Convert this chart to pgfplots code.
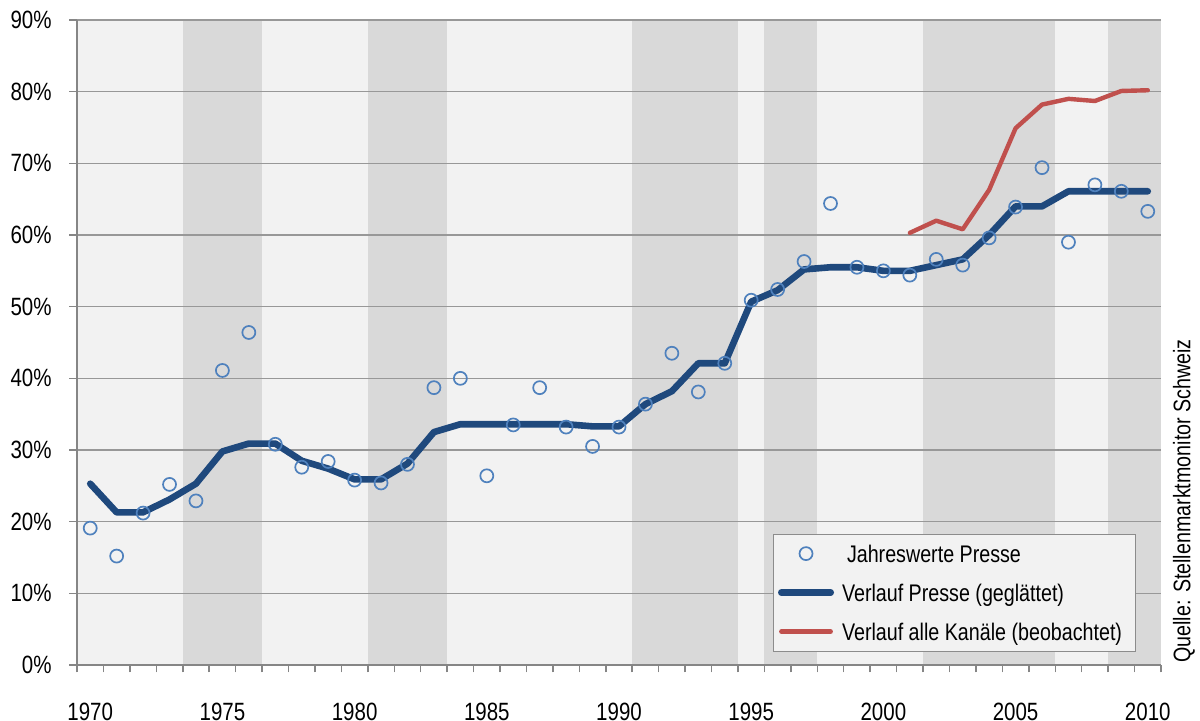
\documentclass[border=0pt]{standalone}
\usepackage{fontspec}
\setmainfont{Liberation Sans}[FakeStretch=0.82]
\usepackage{pgfplots}
\pgfplotsset{compat=1.18}
\definecolor{bgcolor}{HTML}{F2F2F2}
\definecolor{bandgray}{HTML}{D9D9D9}
\definecolor{gridgray}{HTML}{989898}
\definecolor{axisgray}{HTML}{868686}
\definecolor{lineblue}{HTML}{1F497D}
\definecolor{markblue}{HTML}{4F81BD}
\definecolor{linered}{HTML}{C0504D}
\definecolor{legborder}{HTML}{8C8C8C}
\begin{document}
\begin{tikzpicture}
\begin{axis}[
  at={(38.5pt,25.5pt)}, anchor=south west,
  scale only axis, width=542pt, height=322.5pt,
  set layers,
  /pgf/number format/assume math mode=true,
  xmin=1969.5, xmax=2010.5, ymin=0, ymax=90,
  axis x line*=bottom, axis y line*=left,
  axis line style={draw=axisgray, line width=0.75pt},
  tick align=outside,
  xtick={1970,1975,...,2010},
  minor xtick={1969.5,1970.5,...,2010.5},
  major x tick style={draw=none},
  minor x tick style={draw=axisgray, line width=0.75pt},
  minor tick length=3.7pt,
  ytick={0,10,...,90},
  major y tick style={draw=axisgray, line width=0.75pt},
  major tick length=4pt,
  ymajorgrids,
  grid style={draw=gridgray, line width=0.75pt},
  xticklabel style={font=\fontsize{12.5}{14}\selectfont, anchor=base, inner sep=0pt, yshift=-23.5pt},
  xticklabel={\pgfmathprintnumber[assume math mode=true, 1000 sep={}]{\tick}},
  yticklabel style={font=\fontsize{12.5}{14}\selectfont, anchor=east, inner sep=0pt, xshift=-8.5pt},
  yticklabel={\pgfmathprintnumber[assume math mode=true]{\tick}\%},
  legend cell align=left,
  legend style={at={(0.6418,0.0206)}, anchor=south west,
    draw=legborder, fill=bgcolor, line width=0.6pt,
    inner xsep=2.35pt, inner ysep=4pt,
    column sep=4pt, row sep=8pt,
    font=\fontsize{12}{14}\selectfont,
    nodes={inner sep=0pt, text height=10pt, text depth=1.5pt}},
  legend image code/.code={\draw[mark repeat=2, mark phase=2, #1] plot coordinates {(0pt,0pt) (12.35pt,0pt) (24.7pt,0pt)};},
]
% background and shaded bands
\addplot[draw=none, fill=bgcolor, forget plot, on layer=axis background] coordinates {(1969.5,90) (2010.5,90)} \closedcycle;
\addplot[draw=none, fill=bandgray, forget plot, on layer=axis background] coordinates {(1973.5,90) (1976.5,90)} \closedcycle;
\addplot[draw=none, fill=bandgray, forget plot, on layer=axis background] coordinates {(1980.5,90) (1983.5,90)} \closedcycle;
\addplot[draw=none, fill=bandgray, forget plot, on layer=axis background] coordinates {(1990.5,90) (1994.5,90)} \closedcycle;
\addplot[draw=none, fill=bandgray, forget plot, on layer=axis background] coordinates {(1995.5,90) (1997.5,90)} \closedcycle;
\addplot[draw=none, fill=bandgray, forget plot, on layer=axis background] coordinates {(2001.5,90) (2006.5,90)} \closedcycle;
\addplot[draw=none, fill=bandgray, forget plot, on layer=axis background] coordinates {(2008.5,90) (2010.5,90)} \closedcycle;

\addlegendimage{only marks, mark=o, mark size=3.25pt, mark options={draw=markblue, line width=0.85pt}}
\addlegendentry{\hspace{2.5pt}Jahreswerte Presse}
\addlegendimage{draw=lineblue, line width=3.3pt, line cap=round}
\addlegendentry{Verlauf Presse (geglättet)}
\addlegendimage{draw=linered, line width=2.2pt, line cap=round}
\addlegendentry{Verlauf alle Kanäle (beobachtet)\kern4.5pt\null}

% observed all channels
\addplot[forget plot, draw=linered, line width=2.2pt, line join=round, line cap=round, mark=none] coordinates {
(2001,60.3) (2002,62.0) (2003,60.8) (2004,66.3) (2005,74.9)
(2006,78.2) (2007,79.0) (2008,78.7) (2009,80.1) (2010,80.2)};

% smoothed press
\addplot[forget plot, draw=lineblue, line width=3.3pt, line join=round, line cap=round, mark=none] coordinates {
(1970,25.3) (1971,21.3) (1972,21.3) (1973,23.1) (1974,25.3)
(1975,29.8) (1976,30.9) (1977,30.9) (1978,28.5) (1979,27.4)
(1980,25.9) (1981,25.9) (1982,28.1) (1983,32.5) (1984,33.6)
(1985,33.6) (1986,33.6) (1987,33.6) (1988,33.6) (1989,33.3)
(1990,33.3) (1991,36.4) (1992,38.2) (1993,42.1) (1994,42.1)
(1995,50.7) (1996,52.3) (1997,55.2) (1998,55.5) (1999,55.5)
(2000,55.0) (2001,55.0) (2002,55.8) (2003,56.6) (2004,60.0)
(2005,64.0) (2006,64.0) (2007,66.1) (2008,66.1) (2009,66.1)
(2010,66.1)};

% yearly press values
\addplot[forget plot, only marks, mark=o, mark size=3.25pt, mark options={draw=markblue, line width=0.85pt}] coordinates {
(1970,19.1) (1971,15.2) (1972,21.2) (1973,25.2) (1974,22.9)
(1975,41.1) (1976,46.4) (1977,30.8) (1978,27.6) (1979,28.4)
(1980,25.8) (1981,25.4) (1982,28.0) (1983,38.7) (1984,40.0)
(1985,26.4) (1986,33.5) (1987,38.7) (1988,33.2) (1989,30.5)
(1990,33.2) (1991,36.4) (1992,43.5) (1993,38.1) (1994,42.1)
(1995,50.9) (1996,52.4) (1997,56.3) (1998,64.4) (1999,55.5)
(2000,55.0) (2001,54.4) (2002,56.6) (2003,55.8) (2004,59.6)
(2005,63.9) (2006,69.4) (2007,59.0) (2008,67.0) (2009,66.1)
(2010,63.3)};
\end{axis}
\node[rotate=90, anchor=west, inner sep=0pt, font=\fontsize{12}{14}\selectfont] at ([xshift=11.5pt, yshift=1pt]current axis.south east) {Quelle: Stellenmarktmonitor Schweiz};
\path (0,0) rectangle (600pt,358pt);
\end{tikzpicture}
\end{document}
